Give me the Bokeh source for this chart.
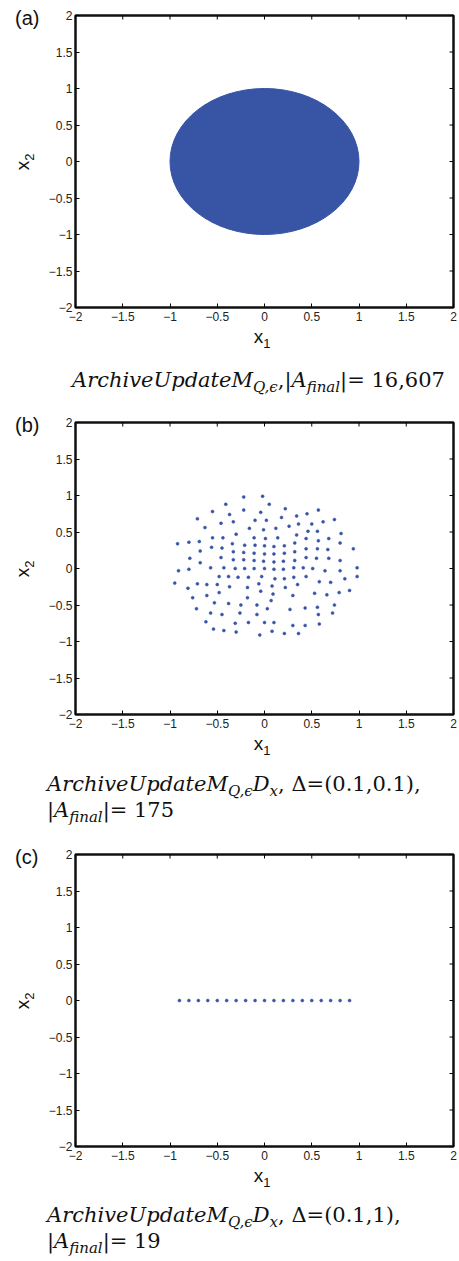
import math
from bokeh.plotting import figure
from bokeh.models import (Range1d, FixedTicker, Div, CustomJSTickFormatter,
                          ColumnDataSource)
from bokeh.layouts import column, row
from bokeh.embed import file_html
from bokeh.resources import INLINE

# ---------------- data ----------------
tick_values = [-2, -1.5, -1, -0.5, 0, 0.5, 1, 1.5, 2]
axis_min, axis_max = -2, 2
panel_letters = ["(a)", "(b)", "(c)"]

# (a) archive fills the unit disk (16,607 points) -> drawn as the filled region
disk_x = [0.0]
disk_y = [0.0]
disk_diameter = [2.0]

# (b) 175-point archive
b_x = [-0.22, -0.02, -0.41, 0.05, -0.22, 0.22, 0.57, -0.55, -0.37, -0.04, 0.34, 0.45,
       -0.71, -0.46, -0.33, -0.10, 0.02, 0.18, 0.36, 0.50, 0.62, 0.74,
       -0.63, -0.16, -0.01, 0.12, 0.26, 0.46, 0.56, 0.81,
       -0.30, -0.55, -0.44, -0.11, 0.01, 0.14, 0.34, 0.44, 0.57, 0.68,
       -0.92, -0.80, -0.69, -0.34, -0.21, -0.10, 0.00, 0.10, 0.21, 0.32, 0.80, 0.94,
       -0.68, -0.56, -0.45, -0.33, -0.22, -0.11, 0.00, 0.10, 0.21, 0.32, 0.44, 0.56, 0.67,
       -0.79, -0.68, -0.46, -0.33, -0.22, -0.11, -0.01, 0.10, 0.20, 0.32, 0.44, 0.55, 0.68, 0.80,
       -0.91, -0.80, -0.57, -0.43, -0.31, -0.21, -0.11, 0.00, 0.10, 0.20, 0.31, 0.41, 0.51, 0.64, 0.80, 0.98,
       -0.48, -0.38, -0.28, -0.17, -0.03, 0.11, 0.21, 0.31, 0.44, 0.85, 0.98,
       -0.95, -0.71, -0.61, -0.50, -0.37, -0.18, -0.06, 0.08, 0.22, 0.35, 0.58, 0.70,
       -0.81, -0.48, -0.04, 0.09, -0.61, 0.30, 0.53, 0.66, 0.79, 0.90,
       -0.76, -0.18, 0.07,
       -0.53, -0.38, -0.25, -0.08, 0.03, 0.27, 0.43, 0.56, 0.74,
       -0.72, -0.57, -0.45, -0.26, -0.08, 0.57, 0.72,
       -0.62, -0.31, -0.17, 0.00, 0.10, 0.30, 0.43, 0.58,
       -0.54, -0.43, -0.30, -0.05, 0.08, 0.21, 0.36]
b_y = [0.98, 0.99, 0.88, 0.88, 0.80, 0.82, 0.80, 0.78, 0.74, 0.77, 0.72, 0.75,
       0.68, 0.62, 0.64, 0.66, 0.66, 0.70, 0.61, 0.61, 0.64, 0.67,
       0.56, 0.55, 0.53, 0.55, 0.58, 0.51, 0.51, 0.48,
       0.47, 0.42, 0.42, 0.42, 0.41, 0.42, 0.46, 0.41, 0.38, 0.41,
       0.34, 0.36, 0.37, 0.34, 0.32, 0.32, 0.31, 0.30, 0.31, 0.35, 0.35, 0.27,
       0.24, 0.29, 0.28, 0.23, 0.22, 0.21, 0.20, 0.20, 0.21, 0.23, 0.27, 0.27, 0.26,
       0.14, 0.08, 0.15, 0.12, 0.12, 0.11, 0.10, 0.09, 0.10, 0.11, 0.15, 0.14, 0.14, 0.11,
       -0.03, -0.01, 0.01, 0.01, 0.00, 0.00, 0.00, 0.00, -0.01, -0.01, 0.01, 0.01, 0.00, -0.03, -0.03, 0.01,
       -0.11, -0.11, -0.12, -0.12, -0.11, -0.14, -0.14, -0.12, -0.11, -0.14, -0.11,
       -0.20, -0.21, -0.22, -0.22, -0.25, -0.26, -0.21, -0.24, -0.26, -0.22, -0.18, -0.19,
       -0.27, -0.33, -0.31, -0.35, -0.37, -0.37, -0.34, -0.36, -0.33, -0.30,
       -0.40, -0.40, -0.44,
       -0.47, -0.48, -0.50, -0.50, -0.55, -0.56, -0.54, -0.53, -0.50,
       -0.55, -0.61, -0.63, -0.61, -0.63, -0.63, -0.61,
       -0.73, -0.75, -0.74, -0.74, -0.74, -0.78, -0.78, -0.76,
       -0.83, -0.85, -0.87, -0.91, -0.86, -0.89, -0.89]

# (c) 19-point archive on the x1 axis
c_x = [-0.9, -0.8, -0.7, -0.6, -0.5, -0.4, -0.3, -0.2, -0.1, 0.0,
       0.1, 0.2, 0.3, 0.4, 0.5, 0.6, 0.7, 0.8, 0.9]
c_y = [0.0] * 19

# captions
cap_name = "ArchiveUpdateM"
cap_sub = "Q,\u03f5"
cap_a_count = "16,607"
cap_b_delta = "(0.1,0.1)"
cap_b_count = "175"
cap_c_delta = "(0.1,1)"
cap_c_count = "19"

# ---------------- styling ----------------
BLUE = "#3754a5"
SANS = "Liberation Sans"

LEFT_W = 45        # html column holding "(a)" and the x2 label
FIG_TOP = 15
FRAME_H = 292
FIG_BOTTOM = 16
FIG_H = FIG_TOP + FRAME_H + FIG_BOTTOM

minus_fmt = CustomJSTickFormatter(code="""
    return tick < 0 ? '\\u2212' + Math.abs(tick) : String(tick);
""")


def make_panel():
    p = figure(frame_width=378, frame_height=FRAME_H,
               min_border_left=75 - LEFT_W, min_border_right=6,
               min_border_top=FIG_TOP, min_border_bottom=FIG_BOTTOM,
               x_range=Range1d(axis_min, axis_max), y_range=Range1d(axis_min, axis_max),
               output_backend="svg", toolbar_location=None,
               background_fill_color="white", border_fill_color="white")
    p.grid.visible = False
    p.outline_line_color = "#111111"
    p.outline_line_width = 2.5
    for ax in p.axis:
        ax.ticker = FixedTicker(ticks=tick_values)
        ax.formatter = minus_fmt
        ax.major_tick_in = 4
        ax.major_tick_out = 0
        ax.minor_tick_line_color = None
        ax.axis_line_color = None
        ax.major_tick_line_color = "black"
        ax.major_tick_line_width = 1
        ax.major_label_text_font = SANS
        ax.major_label_text_font_size = "12px"
        ax.major_label_text_color = "#222222"
    p.yaxis.major_label_standoff = 3
    p.xaxis.major_label_standoff = 4
    # inward ticks on the top and right edges of the box
    n = len(tick_values)
    p.ray(x=tick_values, y=[axis_max] * n, length=4, length_units="screen",
          angle=-math.pi / 2, line_color="black", line_width=1)
    p.ray(x=[axis_max] * n, y=tick_values, length=4, length_units="screen",
          angle=math.pi, line_color="black", line_width=1)
    return p


pa = make_panel()
pa.ellipse(x="x", y="y", width="d", height="d",
           source=ColumnDataSource(dict(x=disk_x, y=disk_y, d=disk_diameter)),
           fill_color=BLUE, line_color=BLUE, line_width=1)

pb = make_panel()
pb.scatter(x=b_x, y=b_y, marker="circle", size=3,
           fill_color=BLUE, line_color=BLUE, line_width=0.5)

pc = make_panel()
pc.scatter(x=c_x, y=c_y, marker="circle", size=3,
           fill_color=BLUE, line_color=BLUE, line_width=0.5)


def left_html(letter):
    return ('<div style="position:relative;width:%dpx;height:%dpx;'
            'font-family:\'Liberation Sans\';color:#111;">'
            '<div style="position:absolute;left:15px;top:8px;font-size:20px;'
            'line-height:20px;white-space:nowrap;">%s</div>'
            '<div style="position:absolute;left:23px;top:162px;font-size:19px;'
            'line-height:19px;white-space:nowrap;'
            'transform:translate(-50%%,-50%%) rotate(-90deg);">x'
            '<span style="position:relative;top:5px;font-size:13px;">2</span></div>'
            '</div>') % (LEFT_W, FIG_H, letter)


def sub(t):
    return ('<span style="position:relative;top:5px;font-size:15px;'
            'font-style:italic">' + t + '</span>')


def it(t):
    return '<i>' + t + '</i>'


def bottom_html(lines, height, cap_left, cap_top):
    return ('<div style="position:relative;width:459px;height:%dpx;color:#111;">'
            '<div style="position:absolute;left:262px;top:4px;'
            'transform:translateX(-50%%);font-family:\'Liberation Sans\';'
            'font-size:19px;line-height:19px;white-space:nowrap;">x'
            '<span style="position:relative;top:5px;font-size:13px;">1</span></div>'
            '<div style="position:absolute;left:%dpx;top:%dpx;'
            'font-family:\'DejaVu Serif\';font-size:21px;line-height:24px;'
            'white-space:nowrap;">%s</div></div>') % (
                height, cap_left, cap_top, "<br>".join(lines))


count_line = lambda n: '|' + it('A') + sub('final') + '|= ' + n
lines_a = [it(cap_name) + sub(cap_sub) + ',' + count_line(cap_a_count)]
lines_b = [it(cap_name) + sub(cap_sub) + it('D') + sub('x') + ', \u0394=' + cap_b_delta + ',',
           count_line(cap_b_count)]
lines_c = [it(cap_name) + sub(cap_sub) + it('D') + sub('x') + ', \u0394=' + cap_c_delta + ',',
           count_line(cap_c_count)]

H_A, H_B, H_C = 84, 109, 99


def panel_row(letter, p):
    return row(Div(text=left_html(letter), width=LEFT_W, height=FIG_H, margin=0),
               p, spacing=0)


layout = column(
    panel_row(panel_letters[0], pa),
    Div(text=bottom_html(lines_a, H_A, 72, 45), width=459, height=H_A, margin=0),
    panel_row(panel_letters[1], pb),
    Div(text=bottom_html(lines_b, H_B, 47, 42), width=459, height=H_B, margin=0),
    panel_row(panel_letters[2], pc),
    Div(text=bottom_html(lines_c, H_C, 47, 41), width=459, height=H_C, margin=0),
    spacing=0)

open("out.html", "w").write(file_html(layout, INLINE))
